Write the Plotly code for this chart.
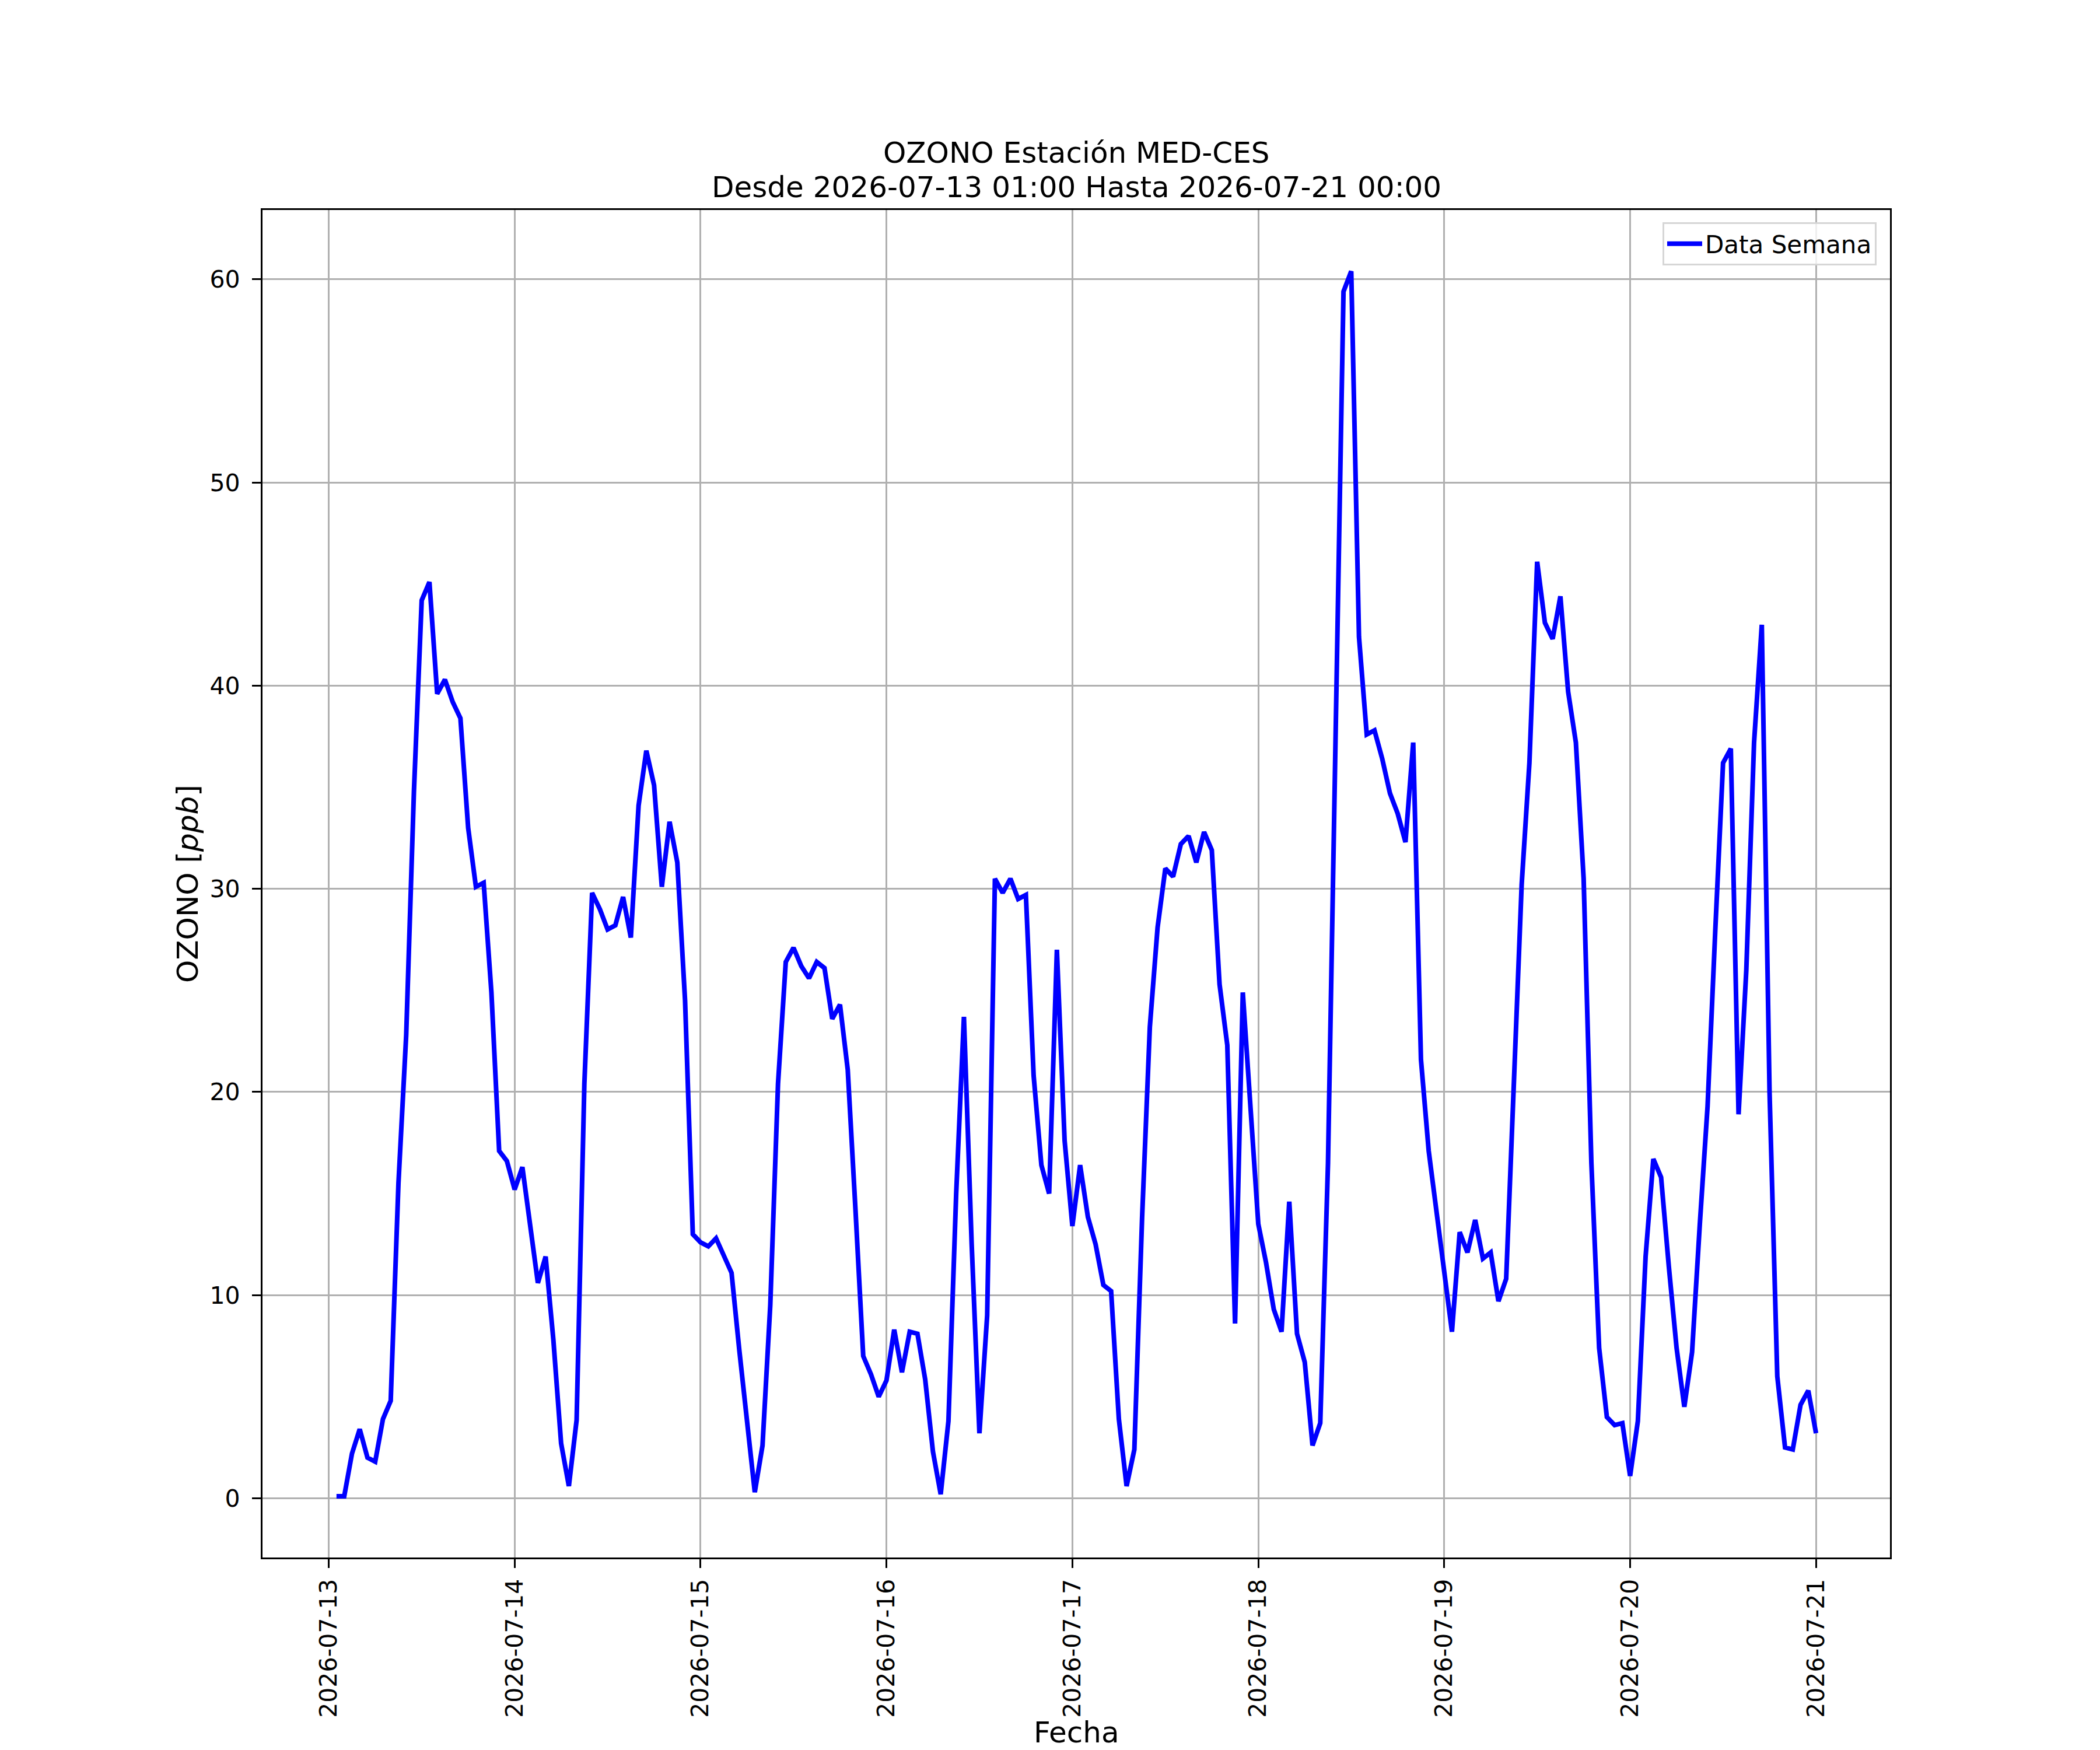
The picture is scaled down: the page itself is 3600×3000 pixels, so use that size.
import pandas as pd
import plotly.graph_objects as go

# ---------------- data ----------------
start_time = "2026-07-13 01:00"
n_hours = 192

day1 = [0.1, 0.1, 2.2, 3.4, 2.0, 1.8, 3.9, 4.8, 15.5, 22.8, 34.8, 44.2,
        45.1, 39.6, 40.3, 39.2, 38.4, 33.0, 30.1, 30.3, 24.9, 17.1, 16.6, 15.2]
day2 = [16.3, 13.6, 10.6, 11.9, 7.8, 2.7, 0.6, 3.85, 20.4, 29.8, 29.0, 28.0,
        28.2, 29.6, 27.6, 34.1, 36.8, 35.1, 30.1, 33.3, 31.3, 24.5, 13.0, 12.6]
day3 = [12.4, 12.8, 11.9, 11.1, 7.3, 3.7, 0.3, 2.6, 9.5, 20.4, 26.4, 27.1,
        26.2, 25.6, 26.4, 26.1, 23.6, 24.3, 21.1, 14.2, 7.0, 6.1, 5.0, 5.8]
day4 = [8.3, 6.2, 8.2, 8.1, 5.85, 2.3, 0.2, 3.8, 15.0, 23.7, 12.5, 3.2,
        9.0, 30.5, 29.8, 30.5, 29.5, 29.7, 20.8, 16.4, 15.0, 27.0, 17.6, 13.4]
day5 = [16.4, 13.85, 12.5, 10.5, 10.2, 3.9, 0.6, 2.4, 13.8, 23.2, 28.1, 31.0,
        30.6, 32.2, 32.6, 31.3, 32.8, 31.9, 25.3, 22.3, 8.6, 24.9, 19.2, 13.5]
day6 = [11.6, 9.3, 8.2, 14.6, 8.1, 6.7, 2.6, 3.7, 16.5, 38.0, 59.4, 60.4,
        42.4, 37.6, 37.8, 36.4, 34.7, 33.7, 32.3, 37.2, 21.6, 17.1, 14.0, 11.2]
day7 = [8.2, 13.1, 12.1, 13.7, 11.8, 12.1, 9.7, 10.8, 20.3, 30.2, 36.2, 46.1,
        43.1, 42.3, 44.4, 39.7, 37.2, 30.5, 16.5, 7.4, 4.0, 3.6, 3.7, 1.1]
day8 = [3.8, 11.9, 16.7, 15.8, 11.4, 7.4, 4.5, 7.2, 13.5, 19.3, 28.0, 36.2,
        36.9, 18.9, 26.0, 37.2, 43.0, 20.0, 6.0, 2.5, 2.4, 4.6, 5.3, 3.2]

ozono = day1 + day2 + day3 + day4 + day5 + day6 + day7 + day8
fechas = pd.date_range(start_time, periods=n_hours, freq="h")

title_line1 = "OZONO Estación MED-CES"
title_line2 = "Desde 2026-07-13 01:00 Hasta 2026-07-21 00:00"
y_label = "OZONO [<i>ppb</i>]"
x_label = "Fecha"
legend_name = "Data Semana"
y_ticks = [0, 10, 20, 30, 40, 50, 60]

# ---------------- figure ----------------
W, H = 3600, 3000
L, R, T, B = 450, 360, 360, 330
plot_w = W - L - R
plot_h = H - T - B

FONT = "DejaVu Sans"

# matplotlib-like 5% margins
t0, t1 = fechas[0], fechas[-1]
tpad = (t1 - t0) * 0.05
ymin, ymax = min(ozono), max(ozono)
ypad = (ymax - ymin) * 0.05

fig = go.Figure()
fig.add_trace(go.Scatter(
    x=fechas, y=ozono, mode="lines", name=legend_name,
    line=dict(color="#0000ff", width=8),
))

axis_common = dict(
    showline=True, linecolor="black", linewidth=3.3, mirror=True,
    showgrid=True, gridcolor="#b0b0b0", gridwidth=3.3,
    ticks="outside", ticklen=15, tickwidth=3.3, tickcolor="black",
    tickfont=dict(family=FONT, size=41, color="black"),
    zeroline=False,
)

fig.update_layout(
    width=W, height=H,
    margin=dict(l=L, r=R, t=T, b=B, autoexpand=False),
    paper_bgcolor="white", plot_bgcolor="white",
    font=dict(family=FONT, color="black"),
    showlegend=True,
    legend=dict(
        x=(3217 - L) / plot_w, y=(H - B - 381) / plot_h,
        xanchor="right", yanchor="top",
        bgcolor="rgba(255,255,255,0.8)", bordercolor="#d6d6d6", borderwidth=3,
        font=dict(family=FONT, size=42, color="black"),
        itemwidth=60,
    ),
    xaxis=dict(
        **axis_common,
        type="date",
        range=[t0 - tpad, t1 + tpad],
        tick0="2026-07-13", dtick=86400000,
        tickformat="%Y-%m-%d", tickangle=-90,
        ticklabelstandoff=2,
    ),
    yaxis=dict(
        **axis_common,
        range=[ymin - ypad, ymax + ypad],
        tickvals=y_ticks,
        ticktext=[str(v) for v in y_ticks],
        ticklabelstandoff=12,
    ),
)

def py(pix_from_top):
    return (H - B - pix_from_top) / plot_h

def px(pix_from_left):
    return (pix_from_left - L) / plot_w

fig.add_annotation(text=title_line1, xref="paper", yref="paper",
                   x=0.5, y=py(262), xanchor="center", yanchor="middle",
                   showarrow=False, font=dict(family=FONT, size=50, color="black"))
fig.add_annotation(text=title_line2, xref="paper", yref="paper",
                   x=0.5, y=py(321), xanchor="center", yanchor="middle",
                   showarrow=False, font=dict(family=FONT, size=50, color="black"))
fig.add_annotation(text=y_label, xref="paper", yref="paper",
                   x=px(322), y=0.5, xanchor="center", yanchor="middle",
                   textangle=-90, showarrow=False,
                   font=dict(family=FONT, size=50, color="black"))
fig.add_annotation(text=x_label, xref="paper", yref="paper",
                   x=0.5, y=py(2970), xanchor="center", yanchor="middle",
                   showarrow=False, font=dict(family=FONT, size=50, color="black"))

fig.write_html("out.html", config={"displayModeBar": False},
               post_script="document.body.style.margin='0';")
